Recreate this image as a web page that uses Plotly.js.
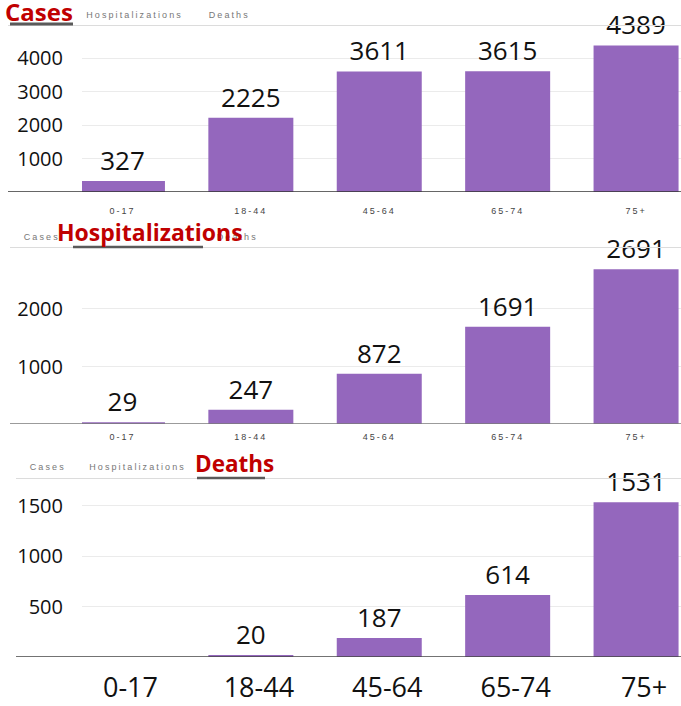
<!DOCTYPE html>
<html>
<head>
<meta charset="utf-8">
<script src="https://cdn.plot.ly/plotly-3.0.1.min.js"></script>
<style>
  html, body { margin: 0; padding: 0; background: #fff; }
  #chart { width: 681px; height: 706px; }
  .xy .xaxislayer-above text, .x2y2 .xaxislayer-above text { letter-spacing: 2px; }
  g.annotation[data-index="0"] text, g.annotation[data-index="1"] text,
  g.annotation[data-index="2"] text, g.annotation[data-index="3"] text,
  g.annotation[data-index="4"] text, g.annotation[data-index="5"] text { letter-spacing: 2.1px; }
</style>
</head>
<body>
<div id="chart"></div>
<script>
// ---- data ----
const ageGroups = ["0-17", "18-44", "45-64", "65-74", "75+"];
const cases = [327, 2225, 3611, 3615, 4389];
const hospitalizations = [29, 247, 872, 1691, 2691];
const deaths = [null, 20, 187, 614, 1531];
const casesTicks = [1000, 2000, 3000, 4000];
const hospTicks = [1000, 2000];
const deathsTicks = [500, 1000, 1500];
const tabNames = ["Cases", "Hospitalizations", "Deaths"];

// ---- layout helpers ----
const W = 681, H = 706;
const px = v => v / W;
const py = v => 1 - v / H;
const purple = "#9467bd";
const red = "#c00000";
const numFont = "Open Sans, Noto Sans, sans-serif";
const smallFont = "Liberation Sans, Arial, sans-serif";

function barTrace(vals, xa, ya) {
  return {
    type: "bar", x: ageGroups, y: vals, xaxis: xa, yaxis: ya,
    marker: { color: purple },
    text: vals.map(v => v == null ? "" : String(v)),
    texttemplate: "%{text}",
    textposition: "outside",
    textfont: { family: numFont, size: 26, color: "#111" },
    cliponaxis: false, constraintext: "none", hoverinfo: "skip"
  };
}

const xDom = [px(82), 1];
const xRange = [-0.315, 4.35];
function xAxis(anchor, big, standoff) {
  const ax = {
    domain: xDom, range: xRange, anchor: anchor, type: "category",
    showgrid: false, zeroline: false, showline: false, ticks: "",
    ticklabelstandoff: standoff,
    tickfont: big ? { family: numFont, size: 27, color: "#111" }
                  : { family: smallFont, size: 9, color: "#444" },
    fixedrange: true
  };
  if (big) ax.ticklabelshift = 8;
  return ax;
}
function yAxis(anchor, dom, range, tickvals) {
  return {
    domain: dom, range: range, anchor: anchor,
    tickvals: tickvals, ticktext: tickvals.map(String),
    showgrid: true, gridcolor: "#ebebeb", gridwidth: 1,
    zeroline: false, showline: false, ticks: "",
    ticklabelstandoff: 18,
    tickfont: { family: numFont, size: 20, color: "#111" },
    fixedrange: true
  };
}

const data = [
  barTrace(cases, "x", "y"),
  barTrace(hospitalizations, "x2", "y2"),
  barTrace(deaths, "x3", "y3")
];

function small(text, xc, y) {
  return { text: text, xref: "paper", yref: "paper", x: px(xc), y: py(y),
    xanchor: "center", yanchor: "middle", showarrow: false,
    font: { family: smallFont, size: 9, color: "#777" } };
}
function head(text, x, y, size) {
  return { text: "<b>" + text + "</b>", xref: "paper", yref: "paper", x: px(x), y: py(y),
    xanchor: "left", yanchor: "middle", showarrow: false,
    font: { family: numFont, size: size, color: red } };
}
function hline(x0, x1, yPix, color, width) {
  return { type: "line", xref: "paper", yref: "paper", x0: px(x0), x1: px(x1),
    y0: py(yPix), y1: py(yPix), line: { color: color, width: width } };
}
function baseline(x0, yref, color, width) {
  return { type: "line", xref: "paper", yref: yref, x0: px(x0), x1: 1,
    y0: 0, y1: 0, line: { color: color, width: width }, layer: "above" };
}

const annotations = [
  small(tabNames[1], 135, 15),
  small(tabNames[2], 229, 15),
  small(tabNames[0], 42, 237),
  small(tabNames[2], 237, 237),
  small(tabNames[0], 48, 467),
  small(tabNames[1], 138, 467),
  head(tabNames[0], 3, 11.5, 24),
  head(tabNames[1], 55, 232, 23),
  head(tabNames[2], 193, 463, 22.5)
];

const shapes = [
  hline(8, 681, 25.5, "#dcdcdc", 1),
  hline(10, 73, 24, "#5a5a5a", 3),
  hline(10, 681, 247.5, "#dcdcdc", 1),
  hline(73, 203, 247, "#5a5a5a", 2.5),
  hline(16, 681, 478.5, "#dcdcdc", 1),
  hline(197, 265, 478, "#5a5a5a", 2.5),
  baseline(8, "y", "#333", 1.5),
  baseline(10, "y2", "#7a7a7a", 1.5),
  baseline(16, "y3", "#444", 1.5)
];

const layout = {
  width: W, height: H,
  margin: { l: 0, r: 0, t: 0, b: 0 },
  paper_bgcolor: "#fff", plot_bgcolor: "#fff",
  showlegend: false, bargap: 0.338,
  xaxis: xAxis("y", false, 12),
  xaxis2: xAxis("y2", false, 6),
  xaxis3: xAxis("y3", true, 12),
  yaxis: yAxis("x", [py(192), py(30)], [0, 4850], casesTicks),
  yaxis2: yAxis("x2", [py(424), py(255)], [0, 2939], hospTicks),
  yaxis3: yAxis("x3", [py(657), py(485)], [0, 1703], deathsTicks),
  annotations: annotations,
  shapes: shapes
};

Plotly.newPlot("chart", data, layout, { displayModeBar: false, staticPlot: true });
</script>
</body>
</html>
